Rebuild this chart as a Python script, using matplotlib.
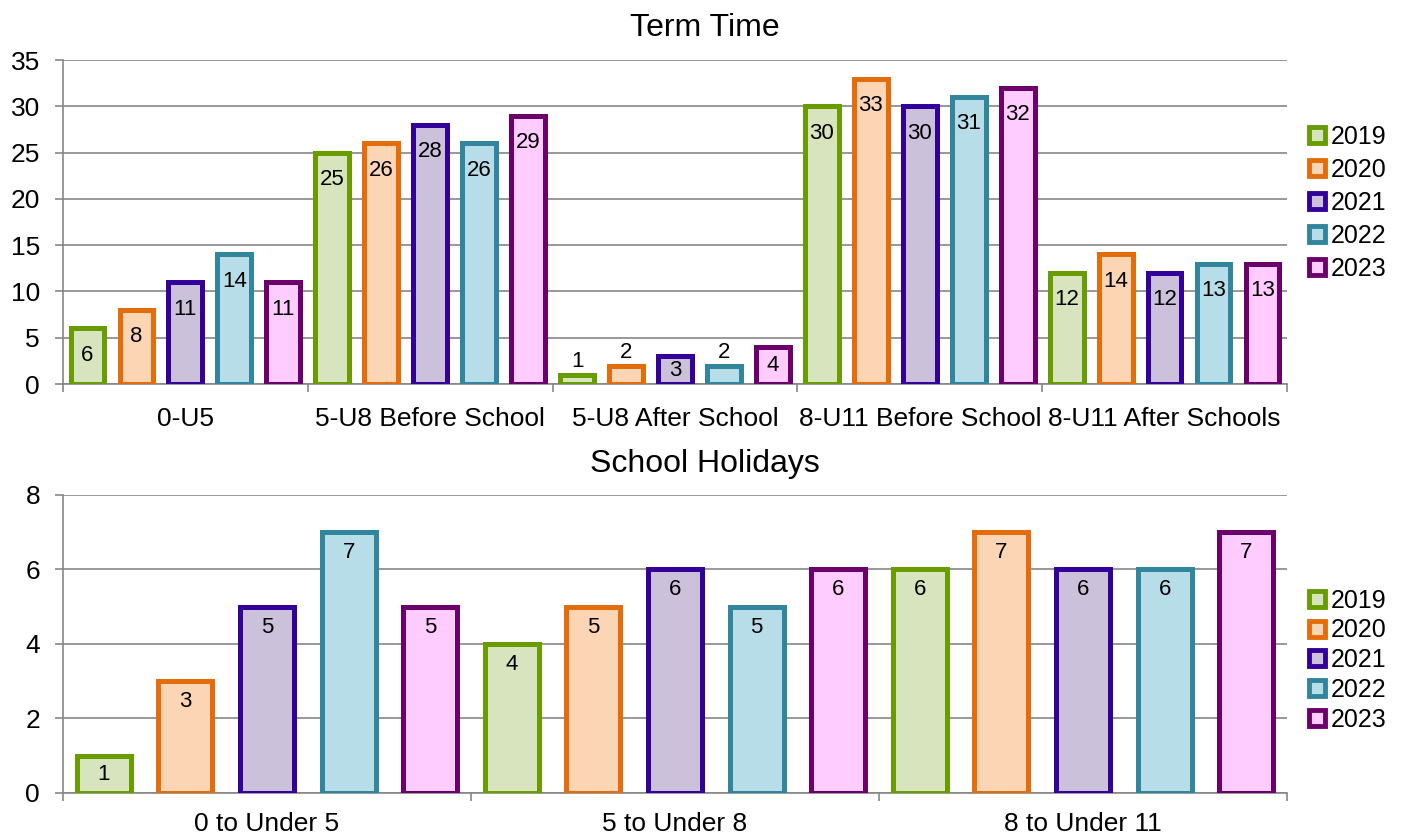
import matplotlib.pyplot as plt
from matplotlib.lines import Line2D
import numpy as np

plt.rcParams['font.family'] = ['Liberation Sans', 'DejaVu Sans']

years = ['2019', '2020', '2021', '2022', '2023']
edge_colors = ['#689C00', '#E46C0A', '#330099', '#31859C', '#6B006B']
fill_colors = ['#D7E4BD', '#FCD5B5', '#CCC1DA', '#B7DEE8', '#FFCCFF']

# 上图: Term Time
term_cats = ['0-U5', '5-U8 Before School', '5-U8 After School',
             '8-U11 Before School', '8-U11 After Schools']
term_vals = {
    '2019': [6, 25, 1, 30, 12],
    '2020': [8, 26, 2, 33, 14],
    '2021': [11, 28, 3, 30, 12],
    '2022': [14, 26, 2, 31, 13],
    '2023': [11, 29, 4, 32, 13],
}

# 下图: School Holidays
hol_cats = ['0 to Under 5', '5 to Under 8', '8 to Under 11']
hol_vals = {
    '2019': [1, 4, 6],
    '2020': [3, 5, 7],
    '2021': [5, 6, 6],
    '2022': [7, 5, 6],
    '2023': [5, 6, 7],
}

GRID = '#868686'


def draw_panel(ax, cats, vals, ymax, ystep, label_off, outside_below, bar_frac, xpad):
    n = len(cats)
    slot = 1.0 / len(years)
    for j, yr in enumerate(years):
        xs = np.arange(n) + slot * (j + 0.5)
        v = np.array(vals[yr], dtype=float)
        ax.bar(xs, v, width=slot * bar_frac, color=fill_colors[j],
               edgecolor=edge_colors[j], linewidth=3.6, zorder=3)
        for x, val in zip(xs, v):
            if val < outside_below:
                ax.text(x, val + 0.3, f'{int(val)}', ha='center', va='bottom',
                        fontsize=16, zorder=4)
            else:
                ly = max(val - label_off, val / 2)
                ax.text(x, ly, f'{int(val)}', ha='center', va='center',
                        fontsize=16, zorder=4)
    ax.set_xlim(0, n)
    ax.set_ylim(0, ymax)
    ax.set_yticks(np.arange(0, ymax + 0.01, ystep))
    ax.set_xticks(np.arange(n + 1))
    ax.set_xticklabels([])
    ax.set_xticks(np.arange(n) + 0.5, minor=True)
    ax.set_xticklabels(cats, minor=True, fontsize=19)
    ax.tick_params(axis='x', which='minor', length=0, pad=xpad)
    ax.tick_params(axis='x', which='major', length=6, color=GRID, width=1.2)
    ax.tick_params(axis='y', length=5.5, color=GRID, width=1.2, labelsize=19, pad=11)
    ax.yaxis.grid(True, color=GRID, linewidth=1.2, zorder=0)
    ax.set_axisbelow(True)
    for s in ['top', 'right']:
        ax.spines[s].set_visible(False)
    for s in ['left', 'bottom']:
        ax.spines[s].set_color(GRID)
        ax.spines[s].set_linewidth(1.2)


fig = plt.figure(figsize=(14.09, 8.35), dpi=100)
ax1 = fig.add_axes([0.0447, 0.5401, 0.8687, 0.388])
ax2 = fig.add_axes([0.0447, 0.0503, 0.8687, 0.3569])

draw_panel(ax1, term_cats, term_vals, 35, 5, 2.9, 2.5, 0.69, 16.5)
draw_panel(ax2, hol_cats, hol_vals, 8, 2, 0.55, 0, 0.66, 13.5)

fig.text(0.5, 0.966, 'Term Time', ha='center', va='center', fontsize=23)
fig.text(0.5, 0.4445, 'School Holidays', ha='center', va='center', fontsize=23)

handles = [Line2D([0], [0], marker='s', linestyle='none', markersize=11,
                  markerfacecolor=fill_colors[j], markeredgecolor=edge_colors[j],
                  markeredgewidth=3.5) for j in range(len(years))]
for ax, y, ls in [(ax1, 0.56, 0.36), (ax2, 0.446, 0.23)]:
    ax.legend(handles, years, loc='center left', bbox_to_anchor=(1.0, y),
              frameon=False, fontsize=18, handletextpad=0.05,
              labelspacing=ls, handlelength=1.0, borderpad=0.2)

fig.savefig('out.png', dpi=100, facecolor='white')
